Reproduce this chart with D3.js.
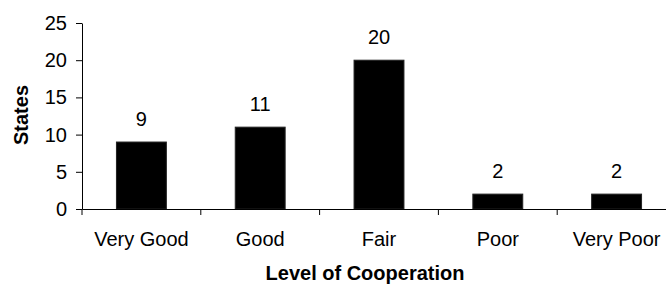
<html>
<script src="https://d3js.org/d3.v7.min.js"></script>
<style>
  body { margin: 0; background: #fff; }
  text { font-family: "Liberation Sans", Arial, sans-serif; fill: #000; }
</style>
<body>
<svg width="666" height="284"></svg>
<script>
var levels = ["Very Good", "Good", "Fair", "Poor", "Very Poor"];
var states = [9, 11, 20, 2, 2];
var yTicks = [0, 5, 10, 15, 20, 25];

var svg = d3.select("svg");

var x = d3.scaleBand()
  .domain(levels)
  .range([82, 676])
  .paddingInner(0.58)
  .paddingOuter(0.29);

var y = d3.scaleLinear()
  .domain([0, 25])
  .range([209, 23]);

// bars
svg.append("g")
  .selectAll("rect")
  .data(levels)
  .enter()
  .append("rect")
    .attr("x", function(d) { return x(d); })
    .attr("y", function(d, i) { return y(states[i]); })
    .attr("width", x.bandwidth())
    .attr("height", function(d, i) { return y(0) - y(states[i]); })
    .attr("fill", "#000")
    .attr("stroke", "#222")
    .attr("stroke-width", 1);

// value labels
svg.append("g")
  .selectAll("text")
  .data(levels)
  .enter()
  .append("text")
    .attr("x", function(d) { return x(d) + x.bandwidth() / 2; })
    .attr("y", function(d, i) { return y(states[i]) - 16; })
    .attr("text-anchor", "middle")
    .style("font-size", "20px")
    .text(function(d, i) { return states[i]; });

// y axis
var yAxis = svg.append("g")
  .attr("transform", "translate(82,0)")
  .call(d3.axisLeft(y).tickValues(yTicks).tickSize(6).tickPadding(9).tickSizeOuter(0));
yAxis.selectAll("text").style("font-size", "20px").attr("fill", "#000");
yAxis.selectAll("line, path").attr("stroke", "#000");

// x axis (labels at centres, ticks at category boundaries)
var xAxis = svg.append("g")
  .attr("transform", "translate(0," + y(0) + ")")
  .call(d3.axisBottom(x).tickSize(0).tickPadding(23).tickSizeOuter(0));
xAxis.select("path").attr("stroke", "#000");
xAxis.selectAll("text").style("font-size", "20px").attr("fill", "#000");

var bounds = d3.range(levels.length + 1).map(function(i) { return 82 + i * x.step(); });
xAxis.selectAll(".bound")
  .data(bounds)
  .enter()
  .append("line")
    .attr("class", "bound")
    .attr("x1", function(d) { return d; })
    .attr("x2", function(d) { return d; })
    .attr("y1", 0)
    .attr("y2", 6)
    .attr("stroke", "#000");

// axis titles
svg.append("text")
  .attr("transform", "translate(28,115) rotate(-90)")
  .attr("text-anchor", "middle")
  .style("font-size", "20px")
  .style("font-weight", "bold")
  .text("States");

svg.append("text")
  .attr("x", 365)
  .attr("y", 280)
  .attr("text-anchor", "middle")
  .style("font-size", "20px")
  .style("font-weight", "bold")
  .text("Level of Cooperation");
</script>
</body>
</html>
